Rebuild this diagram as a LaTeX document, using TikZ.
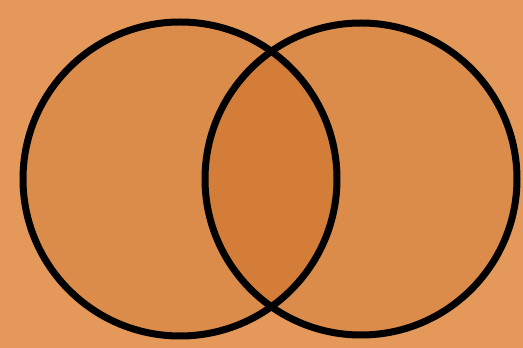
\documentclass[tikz,border=0pt]{standalone}
\definecolor{bg}{RGB}{228,152,90}
\definecolor{disc}{RGB}{220,140,74}
\definecolor{lens}{RGB}{211,125,56}
\tikzset{ring/.style={draw=black,line width=7pt}}
\begin{document}
\begin{tikzpicture}[x=1pt,y=1pt]
\fill[bg] (0,0) rectangle (523,348);
\useasboundingbox (0,0) rectangle (523,348);
\coordinate (cl) at (180,169);
\coordinate (cr) at (361,169);
\fill[disc] (cl) circle (157);
\fill[disc] (cr) circle (156);
\begin{scope}
\clip (cl) circle (157);
\fill[lens] (cr) circle (156);
\end{scope}
\draw[ring] (cl) circle (157);
\draw[ring] (cr) circle (156);
\end{tikzpicture}
\end{document}
